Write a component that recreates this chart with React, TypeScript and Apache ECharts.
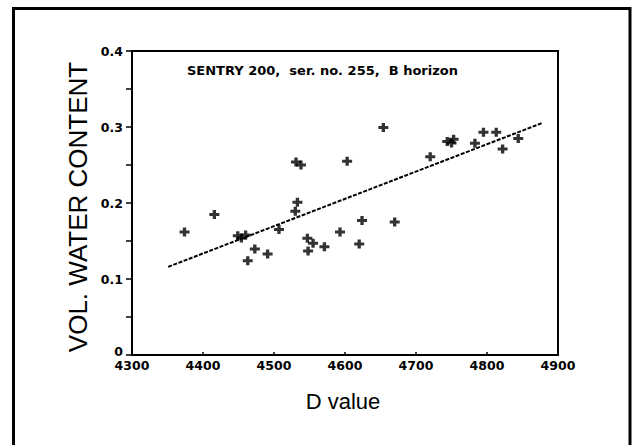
import React, { useEffect, useRef } from "react";
import * as echarts from "echarts";

const dValues = [
  4374, 4416, 4449, 4454, 4460, 4463, 4473, 4491, 4507, 4530, 4533, 4531, 4538,
  4547, 4548, 4555, 4571, 4593, 4603, 4620, 4624, 4654, 4670, 4720, 4744, 4750,
  4753, 4783, 4795, 4813, 4822, 4844,
];
const waterContent = [
  0.162, 0.185, 0.157, 0.154, 0.158, 0.124, 0.1395, 0.133, 0.165, 0.189, 0.201,
  0.254, 0.25, 0.1535, 0.137, 0.147, 0.1425, 0.162, 0.255, 0.146, 0.177, 0.2995,
  0.175, 0.261, 0.281, 0.279, 0.284, 0.2785, 0.293, 0.293, 0.271, 0.285,
];
const fitX = [4351, 4877];
const fitY = [0.116, 0.305];
const xTicks = [4300, 4900, 100];
const yTicks = [0, 0.4, 0.1];

const chartTitle = "SENTRY 200,  ser. no. 255,  B horizon";
const xTitle = "D value";
const yTitle = "VOL. WATER CONTENT";

const PLUS = "path://M3,0H6V3H9V6H6V9H3V6H0V3H3Z";

export default function App() {
  const ref = useRef<HTMLDivElement>(null);
  useEffect(() => {
    document.body.style.margin = "0";
    const chart = echarts.init(ref.current!, null, { renderer: "svg" });
    const labelFont = {
      fontFamily: "DejaVu Sans",
      fontWeight: "bold" as const,
      fontSize: 12.5,
      color: "#000",
    };
    chart.setOption({
      animation: false,
      backgroundColor: "#fff",
      grid: {
        left: 132,
        right: 74,
        top: 51,
        bottom: 90,
        show: true,
        borderColor: "#000",
        borderWidth: 2,
        containLabel: false,
      },
      xAxis: {
        type: "value",
        min: xTicks[0],
        max: xTicks[1],
        interval: xTicks[2],
        axisLine: { show: true, lineStyle: { color: "#000", width: 2 } },
        axisTick: { show: true, inside: true, length: 3, lineStyle: { color: "#000", width: 1.5 } },
        splitLine: { show: false },
        axisLabel: {
          ...labelFont,
          margin: 4,
          lineHeight: 12,
          formatter: (v: number) => String(v),
        },
      },
      yAxis: {
        type: "value",
        min: yTicks[0],
        max: yTicks[1],
        interval: yTicks[2],
        axisLine: { show: true, lineStyle: { color: "#000", width: 2 } },
        axisTick: { show: true, length: 6, lineStyle: { color: "#000", width: 1.5 } },
        minorTick: { show: true, splitNumber: 2, length: 6, lineStyle: { color: "#000", width: 1.5 } },
        splitLine: { show: false },
        axisLabel: {
          ...labelFont,
          margin: 9,
          showMinLabel: false,
          formatter: (v: number) => (v === 0 ? "0" : v.toFixed(1)),
        },
      },
      graphic: [
        {
          type: "rect",
          shape: { x: 13.5, y: 8.5, width: 616.5, height: 520 },
          style: { fill: "none", stroke: "#000", lineWidth: 3 },
          silent: true,
        },
        {
          type: "text",
          x: 123,
          y: 351.5,
          style: {
            text: String(yTicks[0]),
            font: "bold 12.5px 'DejaVu Sans'",
            fill: "#000",
            align: "right",
            verticalAlign: "middle",
          },
        },
        {
          type: "text",
          left: 187,
          top: 64,
          style: {
            text: chartTitle,
            font: "bold 13px 'DejaVu Sans'",
            fill: "#000",
          },
        },
        {
          type: "text",
          x: 78,
          y: 207,
          rotation: Math.PI / 2,
          style: {
            text: yTitle,
            font: "26px 'Liberation Sans'",
            fill: "#000",
            align: "center",
            verticalAlign: "middle",
          },
        },
        {
          type: "text",
          x: 343,
          y: 401,
          style: {
            text: xTitle,
            font: "22px 'Liberation Sans'",
            fill: "#000",
            align: "center",
            verticalAlign: "middle",
          },
        },
      ],
      series: [
        {
          type: "scatter",
          data: dValues.map((d, i) => [d, waterContent[i]]),
          symbol: PLUS,
          symbolSize: [10, 9],
          itemStyle: { color: "#000" },
        },
        {
          type: "line",
          data: fitX.map((d, i) => [d, fitY[i]]),
          showSymbol: false,
          symbol: "none",
          lineStyle: { color: "#000", width: 2, type: [4, 1.5] },
        },
      ],
    });
    return () => chart.dispose();
  }, []);
  return <div ref={ref} style={{ width: 632, height: 445 }} />;
}
